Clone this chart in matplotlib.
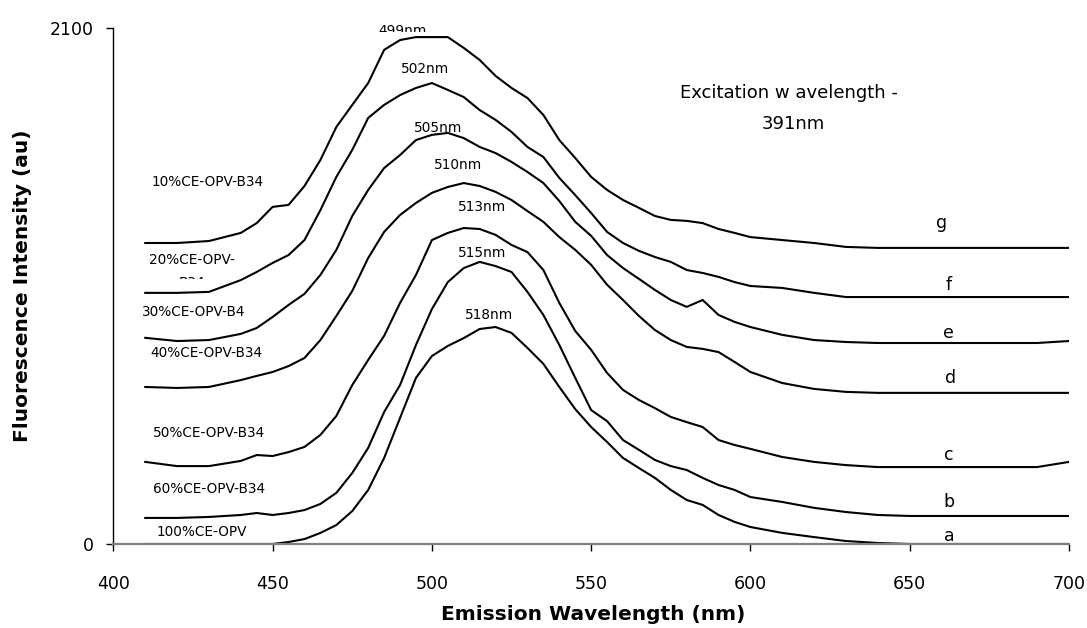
#!/usr/bin/python

import numpy as np
import matplotlib
matplotlib.use("Agg")
import matplotlib.pyplot as plt
from matplotlib.transforms import Bbox, TransformedBbox

##############################################################
### fluorescence emission spectra of the CE-OPV-B34 blends
### values (offset traces a-g)
##############################################################

wavelength = [410, 420, 430, 440, 445, 450, 455, 460, 465, 470, 475, 480, 485,
              490, 495, 500, 505, 510, 515, 520, 525, 530, 535, 540, 545, 550,
              555, 560, 565, 570, 575, 580, 585, 590, 595, 600, 610, 620, 630,
              640, 650, 660, 670, 680, 690, 700]

# g : 10%CE-OPV-B34
g_10 = [1225, 1225, 1233, 1266, 1306, 1372, 1380, 1457, 1563, 1697, 1787, 1876,
        2011, 2051, 2063, 2063, 2063, 2019, 1970, 1905, 1856, 1815, 1746, 1644,
        1571, 1494, 1441, 1400, 1368, 1335, 1319, 1315, 1306, 1282, 1266, 1249,
        1237, 1225, 1209, 1205, 1205, 1205, 1205, 1205, 1205, 1205]
# f : 20%CE-OPV-B34
f_20 = [1022, 1022, 1026, 1074, 1107, 1144, 1176, 1237, 1359, 1494, 1604, 1734,
        1787, 1827, 1856, 1876, 1848, 1819, 1766, 1726, 1677, 1616, 1575, 1490,
        1420, 1347, 1270, 1225, 1193, 1168, 1148, 1115, 1103, 1087, 1066, 1050,
        1042, 1022, 1005, 1005, 1005, 1005, 1005, 1005, 1005, 1005]
# e : 30%CE-OPV-B4
e_30 = [839, 826, 830, 855, 879, 924, 973, 1018, 1095, 1197, 1335, 1441,
        1530, 1583, 1644, 1665, 1673, 1652, 1616, 1591, 1555, 1514, 1469, 1396,
        1311, 1254, 1176, 1123, 1079, 1034, 993, 965, 993, 932, 904, 883,
        851, 830, 822, 818, 818, 818, 818, 818, 818, 826]
# d : 40%CE-OPV-B34
d_40 = [639, 635, 639, 667, 684, 700, 724, 757, 830, 928, 1030, 1164,
        1270, 1339, 1388, 1429, 1453, 1469, 1457, 1433, 1400, 1355, 1311, 1249,
        1197, 1136, 1055, 993, 928, 871, 830, 802, 794, 781, 741, 700,
        655, 631, 619, 615, 615, 615, 615, 615, 615, 615]
# c : 50%CE-OPV-B34
c_50 = [334, 317, 317, 338, 362, 358, 374, 395, 444, 521, 647, 749,
        847, 981, 1095, 1237, 1266, 1286, 1282, 1258, 1217, 1188, 1115, 981,
        867, 790, 696, 627, 586, 553, 517, 496, 476, 423, 403, 387,
        354, 334, 321, 313, 313, 313, 313, 313, 313, 334]
# b : 60%CE-OPV-B34
b_60 = [106, 106, 110, 118, 126, 118, 126, 138, 163, 208, 289, 391,
        537, 647, 810, 956, 1066, 1123, 1148, 1131, 1107, 1026, 932, 810,
        676, 545, 500, 423, 383, 342, 317, 301, 269, 240, 220, 191,
        171, 147, 130, 118, 114, 114, 114, 114, 114, 114]
# a : 100%CE-OPV
a_100 = [0, 0, 0, 0, 0, 0, 8, 20, 45, 77, 134, 220,
         350, 513, 676, 765, 806, 838, 875, 883, 859, 798, 733, 639,
         549, 476, 415, 350, 309, 269, 220, 179, 159, 118, 90, 69,
         45, 28, 12, 4, 0, 0, 0, 0, 0, 0]

series = [g_10, f_20, e_30, d_40, c_50, b_60, a_100]

sample_names = ['10%CE-OPV-B34', '20%CE-OPV-', '30%CE-OPV-B4', '40%CE-OPV-B34',
                '50%CE-OPV-B34', '60%CE-OPV-B34', '100%CE-OPV']
peak_names = ['499nm', '502nm', '505nm', '510nm', '513nm', '515nm', '518nm']
letters = ['g', 'f', 'e', 'd', 'c', 'b', 'a']

### where the annotations sit (data coordinates)
name_pos = [(412.1, 1473, 'left'), (424.7, 1156, 'center'), (409.0, 944, 'left'),
            (411.5, 777, 'left'), (412.4, 452, 'left'), (412.4, 224, 'left'),
            (413.7, 49, 'left')]
peak_pos = [(490.8, 2088), (498.0, 1933), (502.1, 1693), (508.1, 1543),
            (515.6, 1372), (515.9, 1184), (518.1, 932)]
letter_pos = [(660.1, 1306), (662.3, 1054), (662.3, 859), (662.9, 676),
              (662.3, 362), (662.3, 171), (662.3, 33)]

fig = plt.figure(figsize=(10.87, 6.28), dpi=100)
ax = fig.add_axes([0.1043, 0.1338, 0.8791, 0.8216])

for s in series:
    ax.plot(wavelength, s, color='black', lw=1.5)

ax.set_xlim(400, 700)
ax.set_ylim(0, 2100)
ax.set_xticks(np.arange(400, 701, 50))
ax.set_yticks([0, 2100])
ax.tick_params(axis='x', direction='out', length=5, width=1, pad=17, labelsize=12.5)
ax.tick_params(axis='y', direction='out', length=5, width=1, pad=9, labelsize=12.5)

for side in ['top', 'right']:
    ax.spines[side].set_visible(False)
ax.spines['bottom'].set_color('#7f7f7f')
ax.spines['bottom'].set_linewidth(1.6)
ax.spines['left'].set_linewidth(1.0)

ax.set_xlabel('Emission Wavelength (nm)', fontsize=14.5, fontweight='bold')
ax.set_ylabel('Fluorescence Intensity (au)', fontsize=14.5, fontweight='bold')
ax.xaxis.set_label_coords(0.502, -0.118)
ax.yaxis.set_label_coords(-0.085, 0.5)

### sample names on the left
for name, (x, y, ha) in zip(sample_names, name_pos):
    ax.text(x, y, name, fontsize=9.8, ha=ha, va='center')
# second line of the 20% label is cut off in the original
b34 = ax.text(424.7, 1062, 'B34', fontsize=9.8, ha='center', va='center', clip_on=True)
b34.set_clip_box(TransformedBbox(Bbox([[400, 1079], [450, 1300]]), ax.transData))

### peak positions
for i, (name, (x, y)) in enumerate(zip(peak_names, peak_pos)):
    t = ax.text(x, y, name, fontsize=9.8, ha='center', va='center')
    if i == 0:
        # the top label is half hidden
        t.set_clip_on(True)
        t.set_clip_box(TransformedBbox(Bbox([[450, 2084], [550, 2300]]), ax.transData))

### trace letters
for l, (x, y) in zip(letters, letter_pos):
    ax.text(x, y, l, fontsize=12.5, ha='center', va='center')

ax.text(612.1, 1836, 'Excitation w avelength -', fontsize=13, ha='center', va='center')
ax.text(613.4, 1709, '391nm', fontsize=13, ha='center', va='center')

plt.savefig('out.png', dpi=100)
